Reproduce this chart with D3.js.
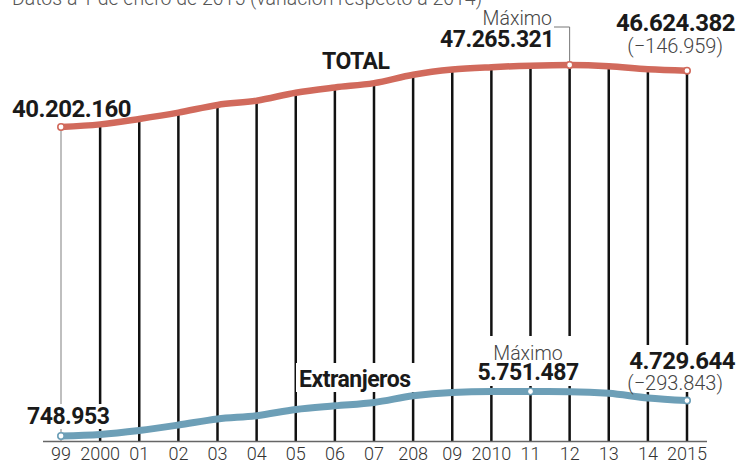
<!DOCTYPE html>
<meta charset="utf-8" />
<script src="https://d3js.org/d3.v7.min.js"></script>
<style>
  body { margin: 0; background: #fff; }
  text { font-family: Roboto, "Open Sans", sans-serif; }
</style>
<body>
<div id="chart"></div>
<script>
  // Población empadronada en España, a 1 de enero
  const years = ["99", "2000", "01", "02", "03", "04", "05", "06", "07", "208",
                 "09", "2010", "11", "12", "13", "14", "2015"];
  const total = [40202160, 40499791, 41116842, 41837894, 42717064, 43197684,
                 44108530, 44708964, 45200737, 46157822, 46745807, 47021031,
                 47190493, 47265321, 47129783, 46771341, 46624382];
  const extranjeros = [748953, 923879, 1370657, 1977946, 2664168, 3034326,
                       3730610, 4144166, 4519554, 5268762, 5648671, 5747734,
                       5751487, 5736258, 5546238, 5023487, 4729644];

  const width = 737, height = 463;
  const axisY = 441.5;
  const red = "#d16a5c", blue = "#6d9fb7";

  const svg = d3.select("#chart").append("svg")
    .attr("width", width)
    .attr("height", height);

  const x = d3.scalePoint().domain(years).range([61, 687]);
  const yTotal = d3.scaleLinear()
    .domain([d3.min(total), d3.max(total)])
    .range([127, 65]);
  const yExt = d3.scaleLinear()
    .domain([d3.min(extranjeros), d3.max(extranjeros)])
    .range([436, 391.5]);

  const fmt = v => d3.format(",")(v).replace(/,/g, ".");

  // subtitle (cut at the top)
  svg.append("text")
    .attr("x", 12).attr("y", 5)
    .attr("font-size", "19.5px").attr("font-weight", 300)
    .attr("fill", "#555")
    .text("Datos a 1 de enero de 2015 (variación respecto a 2014)");

  // vertical lines, from the total curve down to the axis
  svg.append("g")
    .selectAll("line")
    .data(years)
    .join("line")
    .attr("x1", d => x(d)).attr("x2", d => x(d))
    .attr("y1", (d, i) => yTotal(total[i]))
    .attr("y2", axisY)
    .attr("stroke", (d, i) => i === 0 ? "#aaa" : "#111")
    .attr("stroke-width", (d, i) => i === 0 ? 1.5 : 2.5);

  // white boxes behind the lower labels
  const boxes = [
    { x: 24, y: 404, w: 90, h: 25 },
    { x: 296, y: 363, w: 124, h: 29 },
    { x: 477, y: 336, w: 102, h: 50 },
    { x: 611, y: 345, w: 126, h: 47 }
  ];
  svg.append("g")
    .selectAll("rect")
    .data(boxes)
    .join("rect")
    .attr("x", d => d.x).attr("y", d => d.y)
    .attr("width", d => d.w).attr("height", d => d.h)
    .attr("fill", "#fff");

  // axis
  svg.append("line")
    .attr("x1", 43).attr("x2", 707)
    .attr("y1", axisY).attr("y2", axisY)
    .attr("stroke", "#666").attr("stroke-width", 1.5);

  svg.append("g")
    .selectAll("text")
    .data(years)
    .join("text")
    .attr("x", d => x(d))
    .attr("y", 460)
    .attr("text-anchor", "middle")
    .attr("font-size", "18px")
    .attr("font-weight", 300)
    .attr("fill", "#333")
    .text(d => d);

  // lines
  const lineTotal = d3.line()
    .x((d, i) => x(years[i]))
    .y(d => yTotal(d))
    .curve(d3.curveMonotoneX);
  const lineExt = d3.line()
    .x((d, i) => x(years[i]))
    .y(d => yExt(d))
    .curve(d3.curveMonotoneX);

  svg.append("path")
    .datum(extranjeros)
    .attr("d", lineExt)
    .attr("fill", "none")
    .attr("stroke", blue)
    .attr("stroke-width", 7)
    .attr("stroke-linecap", "round");

  svg.append("path")
    .datum(total)
    .attr("d", lineTotal)
    .attr("fill", "none")
    .attr("stroke", red)
    .attr("stroke-width", 6.5)
    .attr("stroke-linecap", "round");

  // Máximo bracket (total)
  const iMaxT = total.indexOf(d3.max(total));
  const iMaxE = extranjeros.indexOf(d3.max(extranjeros));
  svg.append("path")
    .attr("d", `M554,27H${x(years[iMaxT])}V${yTotal(total[iMaxT]) - 3}`)
    .attr("fill", "none")
    .attr("stroke", "#777")
    .attr("stroke-width", 1);

  // marked points
  const last = years.length - 1;
  const pts = [
    { i: 0, y: yTotal(total[0]), c: red },
    { i: iMaxT, y: yTotal(total[iMaxT]), c: red },
    { i: last, y: yTotal(total[last]), c: red },
    { i: 0, y: yExt(extranjeros[0]), c: blue },
    { i: iMaxE, y: yExt(extranjeros[iMaxE]), c: blue },
    { i: last, y: yExt(extranjeros[last]), c: blue }
  ];
  svg.append("g")
    .selectAll("circle")
    .data(pts)
    .join("circle")
    .attr("cx", d => x(years[d.i]))
    .attr("cy", d => d.y)
    .attr("r", 3.2)
    .attr("fill", "#fff")
    .attr("stroke", d => d.c)
    .attr("stroke-width", 1.6);

  // labels
  const labels = [
    { t: fmt(total[0]), x: 12, y: 117, a: "start", s: 24, w: 700 },
    { t: "TOTAL", x: 322, y: 69, a: "start", s: 23, w: 700 },
    { t: "Máximo", x: 552, y: 25, a: "end", s: 19.5, w: 300 },
    { t: fmt(total[iMaxT]), x: 554, y: 47, a: "end", s: 23, w: 700 },
    { t: fmt(total[last]), x: 735, y: 31, a: "end", s: 24, w: 700 },
    { t: "(−146.959)", x: 723, y: 53, a: "end", s: 20, w: 300 },
    { t: fmt(extranjeros[0]), x: 27, y: 424, a: "start", s: 23, w: 700 },
    { t: "Extranjeros", x: 299, y: 387, a: "start", s: 23, w: 700 },
    { t: "Máximo", x: 528, y: 360, a: "middle", s: 19.5, w: 300 },
    { t: fmt(extranjeros[iMaxE]), x: 528, y: 380, a: "middle", s: 23, w: 700 },
    { t: fmt(extranjeros[last]), x: 735, y: 369, a: "end", s: 24, w: 700 },
    { t: "(−293.843)", x: 723, y: 390, a: "end", s: 20, w: 300 }
  ];
  svg.append("g")
    .selectAll("text")
    .data(labels)
    .join("text")
    .attr("x", d => d.x).attr("y", d => d.y)
    .attr("text-anchor", d => d.a)
    .attr("font-size", d => d.s + "px")
    .attr("font-weight", d => d.w)
    .attr("fill", d => d.w === 700 ? "#1a1a1a" : "#444")
    .attr("letter-spacing", d => d.w === 700 ? "-0.5px" : "0")
    .text(d => d.t);
</script>
</body>
